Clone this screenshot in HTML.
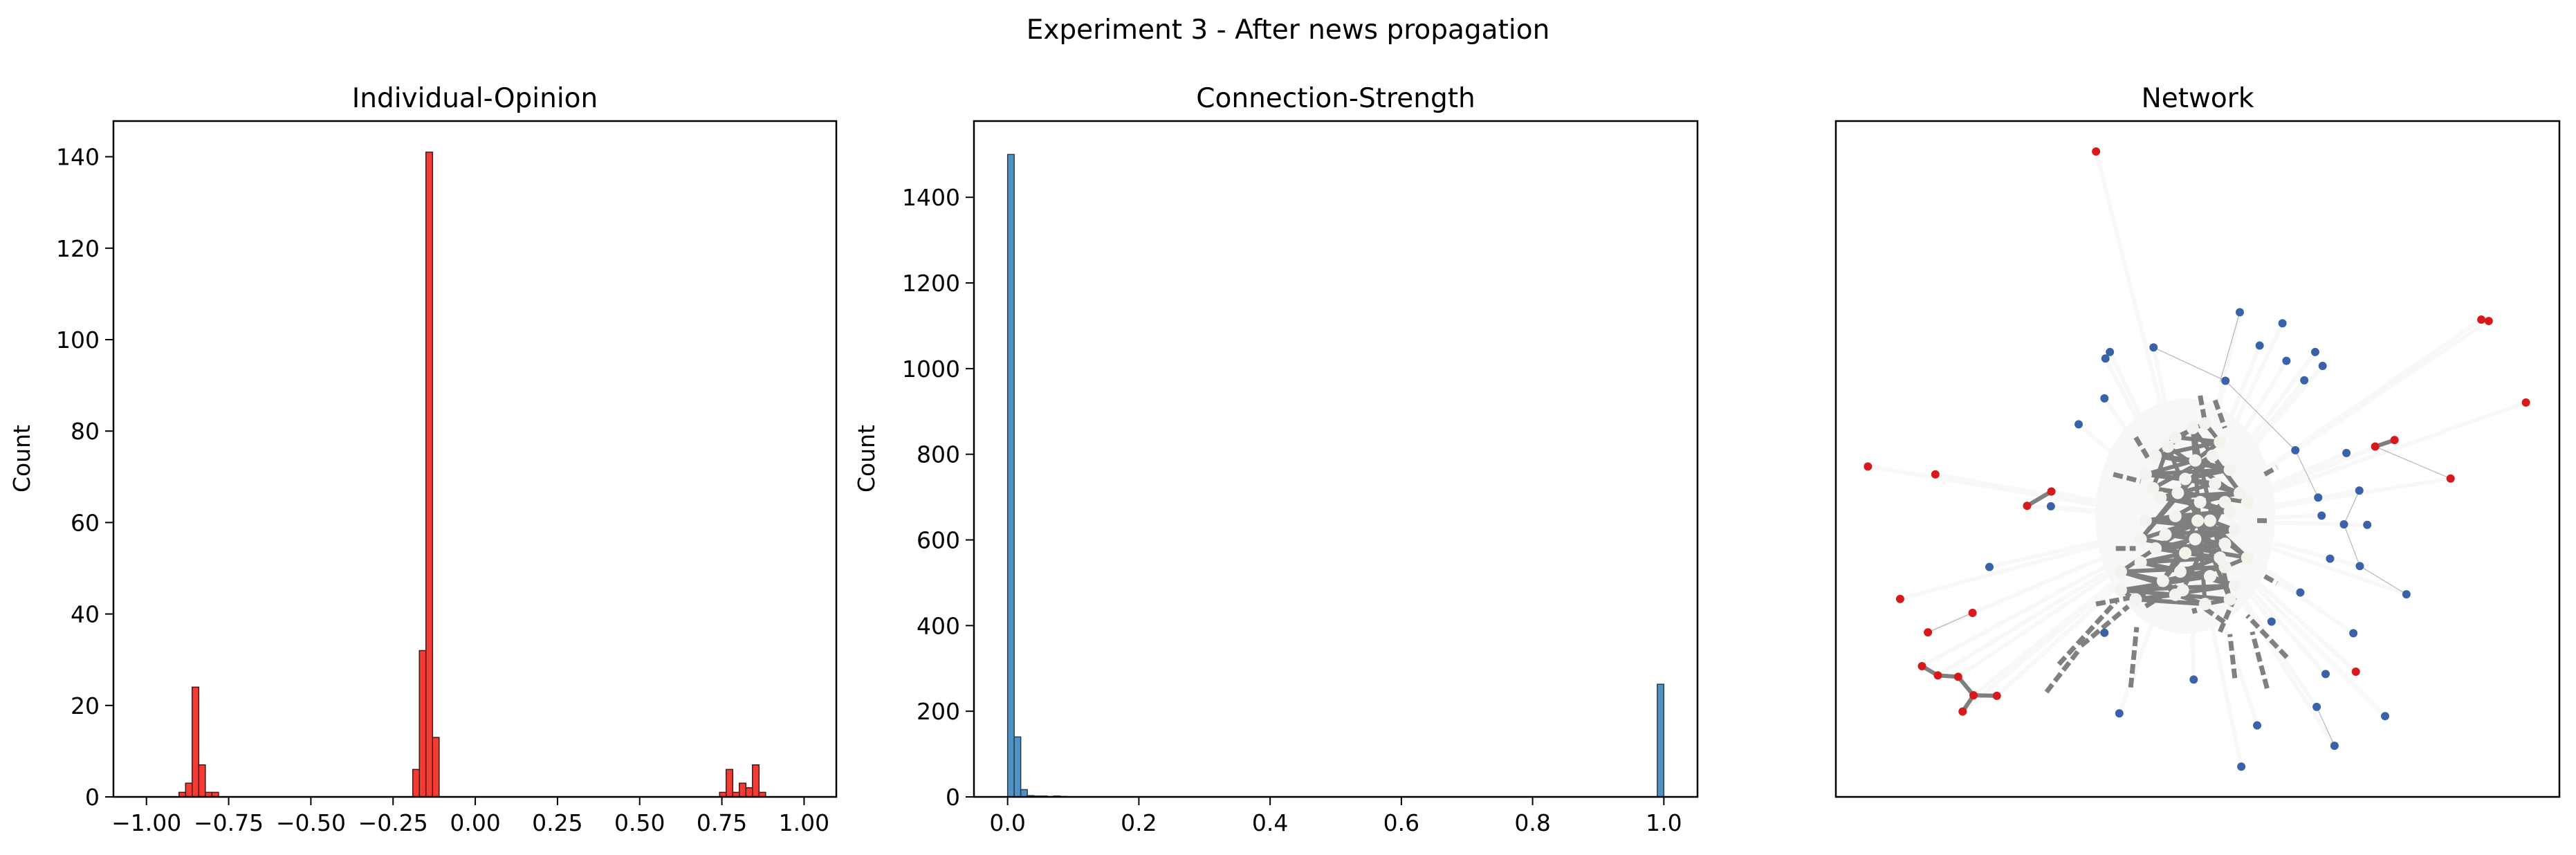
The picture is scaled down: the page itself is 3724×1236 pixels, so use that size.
<!DOCTYPE html>
<html><head><meta charset="utf-8"><style>
html,body{margin:0;padding:0;background:#fff;}
svg{display:block;font-family:"DejaVu Sans","Liberation Sans",sans-serif;}
</style></head><body>
<svg id="fig" width="3724" height="1236" viewBox="0 0 3724 1236" xmlns="http://www.w3.org/2000/svg">
<rect width="3724" height="1236" fill="#fff"/>
<text x="1862" y="56" font-size="39" text-anchor="middle">Experiment 3 - After news propagation</text>
<g id="p1"></g>
<g id="p2"></g>
<g id="p3"></g>
</svg>
<script>
// ---- Individual-Opinion histogram data ----
const opBinWidth = 0.0201;
const opBinStarts = [-0.901,-0.881,-0.861,-0.841,-0.821,-0.801,-0.190,-0.170,-0.150,-0.130,0.743,0.763,0.783,0.803,0.823,0.843,0.863];
const opCounts = [1,3,24,7,1,1,6,32,141,13,1,6,1,3,2,7,1];
const opXTicks = [-1,-0.75,-0.5,-0.25,0,0.25,0.5,0.75,1];
const opXTickLabels = ["\u22121.00","\u22120.75","\u22120.50","\u22120.25","0.00","0.25","0.50","0.75","1.00"];
const opYTicks = [0,20,40,60,80,100,120,140];
// ---- Connection-Strength histogram data ----
const csBinWidth = 0.01;
const csBinStarts = [0,0.01,0.02,0.03,0.04,0.05,0.06,0.07,0.08,0.99];
const csCounts = [1500,140,17,3,2,2,1,2,1,263];
const csXTicks = [0,0.2,0.4,0.6,0.8,1.0];
const csXTickLabels = ["0.0","0.2","0.4","0.6","0.8","1.0"];
const csYTicks = [0,200,400,600,800,1000,1200,1400];
// ---- Network data (layout coords, 0..1568 scale) ----
const redX = [600,140,276,510,461,205,351,261,249,281,322,353,400,331,1377,1392,1467,1163,1202,1315,1124];
const redY = [103,783,800,837,868,1069,1099,1141,1214,1234,1237,1277,1278,1312,466,469,645,740,726,809,1226];
const blueX = [890,976,716,628,619,930,984,1042,1057,861,1020,617,565,1002,1105,1131,1048,1055,1100,1147,509,385,1072,1132,1226,1012,954,617,1119,1063,797,1045,647,1183,925,1081,893];
const blueY = [450,474,526,536,550,522,555,536,566,598,597,636,692,748,754,835,850,889,908,909,869,1000,982,998,1059,1055,1118,1142,1143,1231,1243,1302,1316,1322,1342,1386,1431];
const thinEdges = [[716,526,861,598],[861,598,1002,748],[1002,748,1048,850],[1163,740,1315,809],[261,1141,351,1099],[1045,1302,1081,1386],[1100,908,1131,835],[1100,908,1132,998],[1132,998,1226,1059],[890,450,850,600]];
const thickEdges = [[461,868,510,837],[1163,740,1202,726],[249,1214,281,1234],[281,1234,322,1237],[322,1237,353,1277],[353,1277,400,1278],[353,1277,331,1312]];
const spokes = [[810,630,822,700],[840,640,860,700],[680,720,705,765],[635,800,690,815],[640,960,680,960],[940,800,965,785],[925,900,950,900],[940,1020,965,1035],[500,1270,565,1180],[525,1210,640,1075],[570,1170,665,1085],[670,1260,682,1130],[880,1240,870,1145],[945,1262,915,1140],[985,1195,905,1105],[820,1090,860,1120],[850,1140,880,1065],[700,1085,765,1040],[600,1080,700,1060],[790,1060,800,1100]];
const clusterX = [820,760,850,720,800,870,700,780,840,890,730,810,870,760,700,830,880,740,800,860,720,780,850,690,770,830,880,650,680,760,820,870,795,745,905,715,835,765,690,905,805,860,735,650,860,775];
const clusterY = [690,720,730,760,770,790,800,810,820,840,850,860,880,890,900,900,920,930,940,950,960,970,980,990,1010,1020,1040,1050,1070,1060,1080,1070,700,740,860,830,760,840,940,980,900,1000,1030,1010,860,1050];

const NS='http://www.w3.org/2000/svg';
function mk(parent,tag,attrs){const e=document.createElementNS(NS,tag);for(const k in attrs)e.setAttribute(k,attrs[k]);parent.appendChild(e);return e;}

function histPanel(g,box,xmin,xmax,ymax,starts,counts,bw,xt,xtl,yt,title,fill,stroke,namePrefix){
  const sx=v=>box.l+(v-xmin)/(xmax-xmin)*(box.r-box.l);
  const sy=v=>box.b-v/ymax*(box.b-box.t);
  for(let i=0;i<starts.length;i++){
    const x0=sx(starts[i]),x1=sx(starts[i]+bw),y=sy(counts[i]);
    const r=mk(g,'rect',{x:x0,y:y,width:x1-x0,height:box.b-y,fill:fill,stroke:stroke,'stroke-width':1.5});
    
    
  }
  const fr=mk(g,'rect',{x:box.l,y:box.t,width:box.r-box.l,height:box.b-box.t,fill:'none',stroke:'#000','stroke-width':2.5});
  
  
  for(let i=0;i<xt.length;i++){
    const x=sx(xt[i]);
    mk(g,'line',{x1:x,x2:x,y1:box.b,y2:box.b+12,stroke:'#000','stroke-width':2});
    const t=mk(g,'text',{x:x,y:box.b+49,'font-size':33,'text-anchor':'middle'});t.textContent=xtl[i];
    
    
  }
  for(let i=0;i<yt.length;i++){
    const y=sy(yt[i]);
    mk(g,'line',{x1:box.l-12,x2:box.l,y1:y,y2:y,stroke:'#000','stroke-width':2});
    const t=mk(g,'text',{x:box.l-20,y:y+12,'font-size':33,'text-anchor':'end'});t.textContent=String(yt[i]);
    
    
  }
  const tt=mk(g,'text',{x:(box.l+box.r)/2,y:155,'font-size':39,'text-anchor':'middle'});tt.textContent=title;
  
  
}

histPanel(document.getElementById('p1'),{l:164,r:1209,t:175,b:1152},-1.1004,1.098,147.8,opBinStarts,opCounts,opBinWidth,opXTicks,opXTickLabels,opYTicks,'Individual-Opinion','#f23b33','#4a1515','opinion');
histPanel(document.getElementById('p2'),{l:1408,r:2454,t:175,b:1152},-0.0513,1.0513,1578,csBinStarts,csCounts,csBinWidth,csXTicks,csXTickLabels,csYTicks,'Connection-Strength','#4f93c4','#2a3a48','strength');

[[43,'opinion'],[1264,'strength']].forEach(([x,n])=>{
  const t=mk(document.getElementById('fig'),'text',{x:x,y:663,'font-size':33,'text-anchor':'middle',transform:'rotate(-90 '+x+' 663)'});
  t.textContent='Count';
  
  
});

// ---- Network ----
const g3=document.getElementById('p3');
const nx=v=>v/1.395+2600, ny=v=>v/1.4933+150;
const cx=nx(790), cy=ny(900);
for(let i=0;i<redX.length;i++) mk(g3,'line',{x1:nx(redX[i]),y1:ny(redY[i]),x2:cx,y2:cy,stroke:'#f8f8f8','stroke-width':6});
for(let i=0;i<blueX.length;i++) mk(g3,'line',{x1:nx(blueX[i]),y1:ny(blueY[i]),x2:cx,y2:cy,stroke:'#f8f8f8','stroke-width':6});
mk(g3,'ellipse',{cx:nx(780),cy:ny(890),rx:130,ry:170,fill:'#f7f7f7'});
thinEdges.forEach(e=>mk(g3,'line',{x1:nx(e[0]),y1:ny(e[1]),x2:nx(e[2]),y2:ny(e[3]),stroke:'#b5b5b5','stroke-width':1.2}));
spokes.forEach(e=>{const l=mk(g3,'line',{x1:nx(e[0]),y1:ny(e[1]),x2:nx(e[2]),y2:ny(e[3]),stroke:'#808080','stroke-width':7,'stroke-dasharray':'14 6'});
  
  });
for(let i=0;i<clusterX.length;i++){
  for(let j=i+1;j<Math.min(i+3,clusterX.length);j++){
    mk(g3,'line',{x1:nx(clusterX[i]),y1:ny(clusterY[i]),x2:nx(clusterX[j]),y2:ny(clusterY[j]),stroke:'#7f7f7f','stroke-width':6});
  }
}
for(let i=0;i<clusterX.length;i++){
  const c=mk(g3,'circle',{cx:nx(clusterX[i]),cy:ny(clusterY[i]),r:9,fill:'#f3f3ee'});
  
  
}
thickEdges.forEach(e=>mk(g3,'line',{x1:nx(e[0]),y1:ny(e[1]),x2:nx(e[2]),y2:ny(e[3]),stroke:'#7f7f7f','stroke-width':6}));
for(let i=0;i<blueX.length;i++){
  const c=mk(g3,'circle',{cx:nx(blueX[i]),cy:ny(blueY[i]),r:6,fill:'#3a62a8'});
  
  
}
for(let i=0;i<redX.length;i++){
  const c=mk(g3,'circle',{cx:nx(redX[i]),cy:ny(redY[i]),r:6,fill:'#d7191c'});
  
  
}
const f3=mk(g3,'rect',{x:2654,y:175,width:1046,height:977,fill:'none',stroke:'#000','stroke-width':2.5});


const t3=mk(g3,'text',{x:3177,y:155,'font-size':39,'text-anchor':'middle'});
t3.textContent='Network';


</script>
</body></html>
